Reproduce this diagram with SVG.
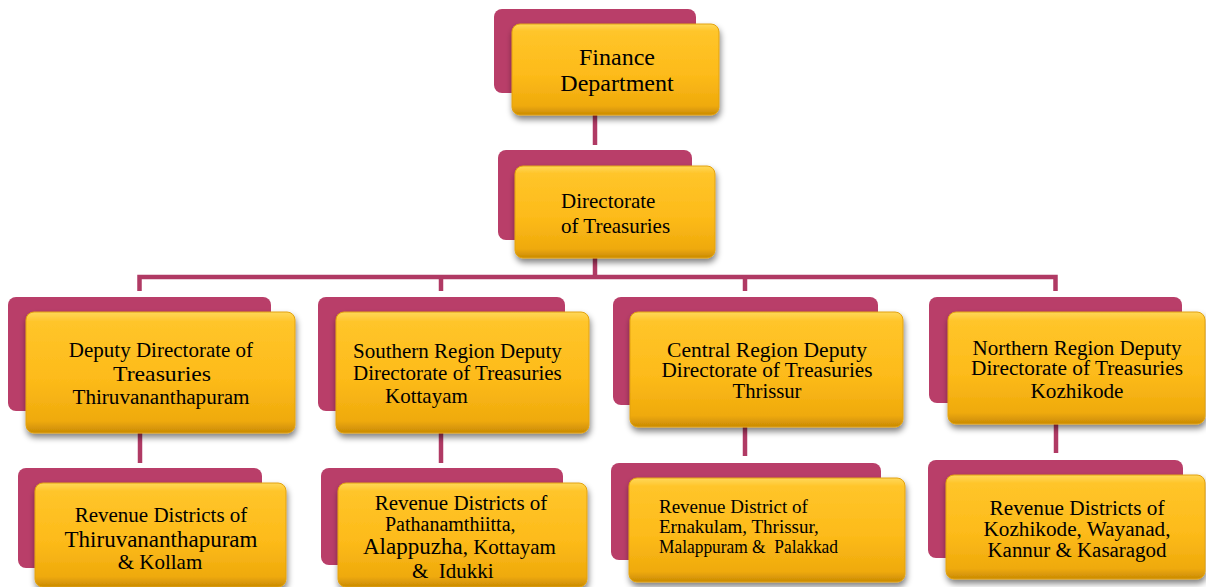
<svg xmlns="http://www.w3.org/2000/svg" width="1206" height="587" viewBox="0 0 1206 587">
<defs>
<linearGradient id="gold" x1="0" y1="0" x2="0" y2="1">
<stop offset="0" stop-color="#FFD85A"/>
<stop offset="0.08" stop-color="#FFC52A"/>
<stop offset="0.55" stop-color="#FDBB1A"/>
<stop offset="0.9" stop-color="#EFAA0C"/>
<stop offset="1" stop-color="#C98A04"/>
</linearGradient>
<filter id="sh" x="-10%" y="-10%" width="120%" height="130%">
<feGaussianBlur in="SourceAlpha" stdDeviation="3"/>
<feOffset dx="1" dy="4" result="b"/>
<feComponentTransfer><feFuncA type="linear" slope="0.5"/></feComponentTransfer>
<feMerge><feMergeNode/><feMergeNode in="SourceGraphic"/></feMerge>
</filter>
<style>
.back{fill:#B93E69}
.front{fill:url(#gold);stroke:#E2A210;stroke-width:1;filter:url(#sh)}
.c{text-anchor:middle}
.conn{stroke:#B03A64;stroke-width:4.5;fill:none}
</style>
</defs>
<rect width="1206" height="587" fill="#fff"/>
<g id="connectors">
<path class="conn" d="M595 115 V145"/>
<path class="conn" d="M595 258 V277"/>
<path class="conn" d="M139.5 291 V277 H1055.5 V291"/>
<path class="conn" d="M441 277 V291"/>
<path class="conn" d="M745 277 V291"/>
<path class="conn" d="M140 433 V463"/>
<path class="conn" d="M441 433 V463"/>
<path class="conn" d="M745 427 V456"/>
<path class="conn" d="M1056 424 V453"/>
</g>
<g font-family="'Liberation Serif', 'Times New Roman', Times, serif" font-size="21" fill="#000">
<g id="finance">
<rect class="back" x="494" y="9" width="202" height="84" rx="8"/>
<rect class="front" x="512" y="24" width="207" height="91" rx="8"/>
<text class="c" x="617" y="65" font-size="24">Finance</text>
<text class="c" x="617" y="91" font-size="24">Department</text>
</g>
<g id="directorate">
<rect class="back" x="498" y="150" width="194" height="90" rx="8"/>
<rect class="front" x="515" y="166" width="200" height="92" rx="8"/>
<text x="561" y="208">Directorate</text>
<text x="561" y="233">of Treasuries</text>
</g>
<g id="deputy-tvm">
<rect class="back" x="8" y="297" width="263" height="114" rx="8"/>
<rect class="front" x="26" y="312" width="269" height="121" rx="8"/>
<text class="c" x="161" y="357">Deputy Directorate of</text>
<text class="c" x="162" y="381" font-size="22" textLength="98" lengthAdjust="spacingAndGlyphs">Treasuries</text>
<text class="c" x="161" y="404" font-size="20" textLength="177" lengthAdjust="spacingAndGlyphs">Thiruvananthapuram</text>
</g>
<g id="deputy-south">
<rect class="back" x="318" y="297" width="247" height="114" rx="8"/>
<rect class="front" x="336" y="312" width="253" height="121" rx="8"/>
<text x="353" y="358">Southern Region Deputy</text>
<text x="353" y="380">Directorate of Treasuries</text>
<text x="385" y="403">Kottayam</text>
</g>
<g id="deputy-central" font-size="20">
<rect class="back" x="613" y="297" width="265" height="108" rx="8"/>
<rect class="front" x="630" y="312" width="273" height="115" rx="8"/>
<text class="c" x="767" y="357" textLength="200" lengthAdjust="spacingAndGlyphs">Central Region Deputy</text>
<text class="c" x="767" y="377" textLength="211" lengthAdjust="spacingAndGlyphs">Directorate of Treasuries</text>
<text class="c" x="767" y="398" textLength="69" lengthAdjust="spacingAndGlyphs">Thrissur</text>
</g>
<g id="deputy-north" font-size="20">
<rect class="back" x="929" y="297" width="253" height="106" rx="8"/>
<rect class="front" x="948" y="312" width="257" height="112" rx="8"/>
<text class="c" x="1077" y="355" textLength="209" lengthAdjust="spacingAndGlyphs">Northern Region Deputy</text>
<text class="c" x="1077" y="375" textLength="212" lengthAdjust="spacingAndGlyphs">Directorate of Treasuries</text>
<text class="c" x="1077" y="398" textLength="93" lengthAdjust="spacingAndGlyphs">Kozhikode</text>
</g>
<g id="rev-tvm">
<rect class="back" x="18" y="468" width="244" height="100" rx="8"/>
<rect class="front" x="35" y="483" width="251" height="104" rx="8"/>
<text class="c" x="161" y="522">Revenue Districts of</text>
<text class="c" x="161" y="547" font-size="23">Thiruvananthapuram</text>
<text class="c" x="160" y="569">&amp; Kollam</text>
</g>
<g id="rev-south">
<rect class="back" x="321" y="468" width="242" height="97" rx="8"/>
<rect class="front" x="338" y="483" width="249" height="104" rx="8"/>
<text class="c" x="461" y="510">Revenue Districts of</text>
<text x="385" y="531" font-size="20">Pathanamthiitta,</text>
<text x="363" y="554"><tspan font-size="23">Alappuzha</tspan>, Kottayam</text>
<text x="412" y="578" xml:space="preserve">&amp;  Idukki</text>
</g>
<g id="rev-central">
<rect class="back" x="611" y="463" width="270" height="97" rx="8"/>
<rect class="front" x="629" y="478" width="276" height="104" rx="8"/>
<text x="659" y="513" font-size="19">Revenue District of</text>
<text x="659" y="533" font-size="19">Ernakulam, Thrissur,</text>
<text x="659" y="553" font-size="18.5" textLength="179" lengthAdjust="spacingAndGlyphs" xml:space="preserve">Malappuram &amp;  Palakkad</text>
</g>
<g id="rev-north" font-size="20">
<rect class="back" x="928" y="460" width="255" height="98" rx="8"/>
<rect class="front" x="946" y="475" width="259" height="104" rx="8"/>
<text class="c" x="1077" y="515" textLength="175" lengthAdjust="spacingAndGlyphs">Revenue Districts of</text>
<text class="c" x="1077" y="536" textLength="187" lengthAdjust="spacingAndGlyphs">Kozhikode, Wayanad,</text>
<text class="c" x="1077" y="557" textLength="179" lengthAdjust="spacingAndGlyphs">Kannur &amp; Kasaragod</text>
</g>
</g>
</svg>
